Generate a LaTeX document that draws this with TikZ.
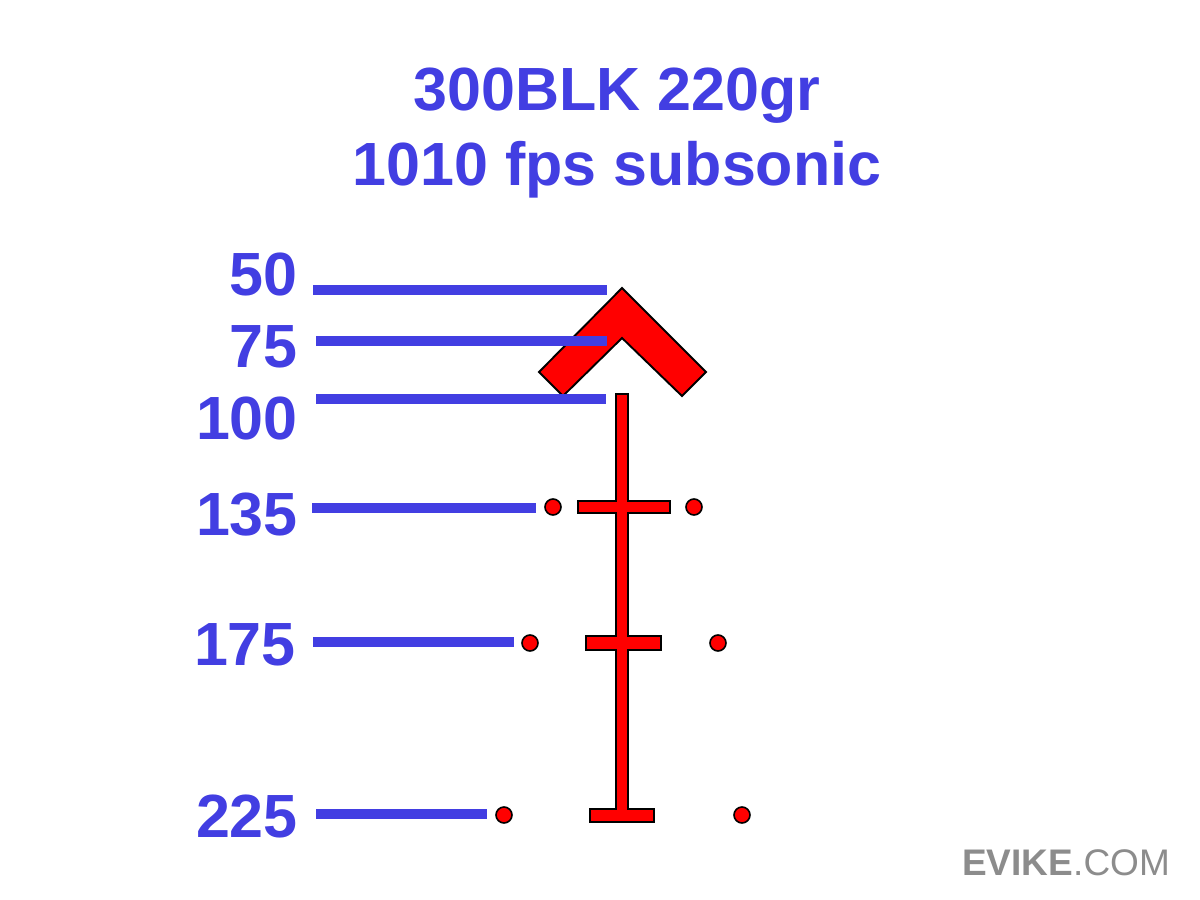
\documentclass[tikz,border=0pt]{standalone}
\usepackage{fontspec}
\setmainfont{Liberation Sans}
\definecolor{lblue}{RGB}{66,62,226}
\definecolor{wmgray}{RGB}{140,140,140}
\tikzset{
  lbl/.style={anchor=base east, inner sep=0pt, text=lblue, font=\fontsize{61}{61}\selectfont\bfseries},
  ttl/.style={anchor=base, inner sep=0pt, text=lblue, font=\fontsize{61}{61}\selectfont\bfseries},
  rangeline/.style={draw=lblue, line width=10pt, line cap=butt},
  redfill/.style={fill=red},
  rededge/.style={draw=black, line width=3.6pt, line join=miter},
  dotmark/.style={circle, fill=red, draw=black, line width=1.6pt, minimum size=16pt, inner sep=0pt}
}
\begin{document}
\begin{tikzpicture}[x=1pt,y=-1pt]
\useasboundingbox (0,0) rectangle (1200,900);
\fill[white] (0,0) rectangle (1200,900);

% title
\node[ttl] (t1) at (617,110) {300BLK 220gr};
\node[ttl] (t2) at (617,185) {1010 fps subsonic};

% chevron
\draw[fill=red, draw=black, line width=1.9pt, line join=miter]
  (622,288) -- (706,372) -- (682,396) -- (622,338) -- (563,396) -- (539,372) -- cycle;

% reticle: outline pass then fill pass (union look)
\foreach \pass in {rededge,redfill}{
  \path[\pass] (617,395) rectangle (627,815);
  \path[\pass] (579,502) rectangle (669,512);
  \path[\pass] (587,637) rectangle (660,649);
  \path[\pass] (591,810) rectangle (653,821);
}

% dots
\node[dotmark] (d1l) at (553,507) {};
\node[dotmark] (d1r) at (694,507) {};
\node[dotmark] (d2l) at (530,643) {};
\node[dotmark] (d2r) at (718,643) {};
\node[dotmark] (d3l) at (504,815) {};
\node[dotmark] (d3r) at (742,815) {};

% range lines
\coordinate (a1) at (313,290); \coordinate (b1) at (607,290);
\coordinate (a2) at (316,341); \coordinate (b2) at (607,341);
\coordinate (a3) at (316,399); \coordinate (b3) at (606,399);
\coordinate (a4) at (312,508); \coordinate (b4) at (536,508);
\coordinate (a5) at (313,642); \coordinate (b5) at (514,642);
\coordinate (a6) at (316,814); \coordinate (b6) at (487,814);
\draw[rangeline] (a1) -- (b1);
\draw[rangeline] (a2) -- (b2);
\draw[rangeline] (a3) -- (b3);
\draw[rangeline] (a4) -- (b4);
\draw[rangeline] (a5) -- (b5);
\draw[rangeline] (a6) -- (b6);

% labels
\node[lbl] (l50) at (298,295) {50};
\node[lbl] (l75) at (298,367) {75};
\node[lbl] (l100) at (298,439) {100};
\node[lbl] (l135) at (298,535) {135};
\node[lbl] (l175) at (296,665) {175};
\node[lbl] (l225) at (298,837) {225};

% watermark
\node[anchor=base west, inner sep=0pt, text=wmgray, font=\fontsize{37}{37}\selectfont] (wm) at (962,875)
  {{\bfseries EVIKE}.COM};
\end{tikzpicture}
\end{document}
